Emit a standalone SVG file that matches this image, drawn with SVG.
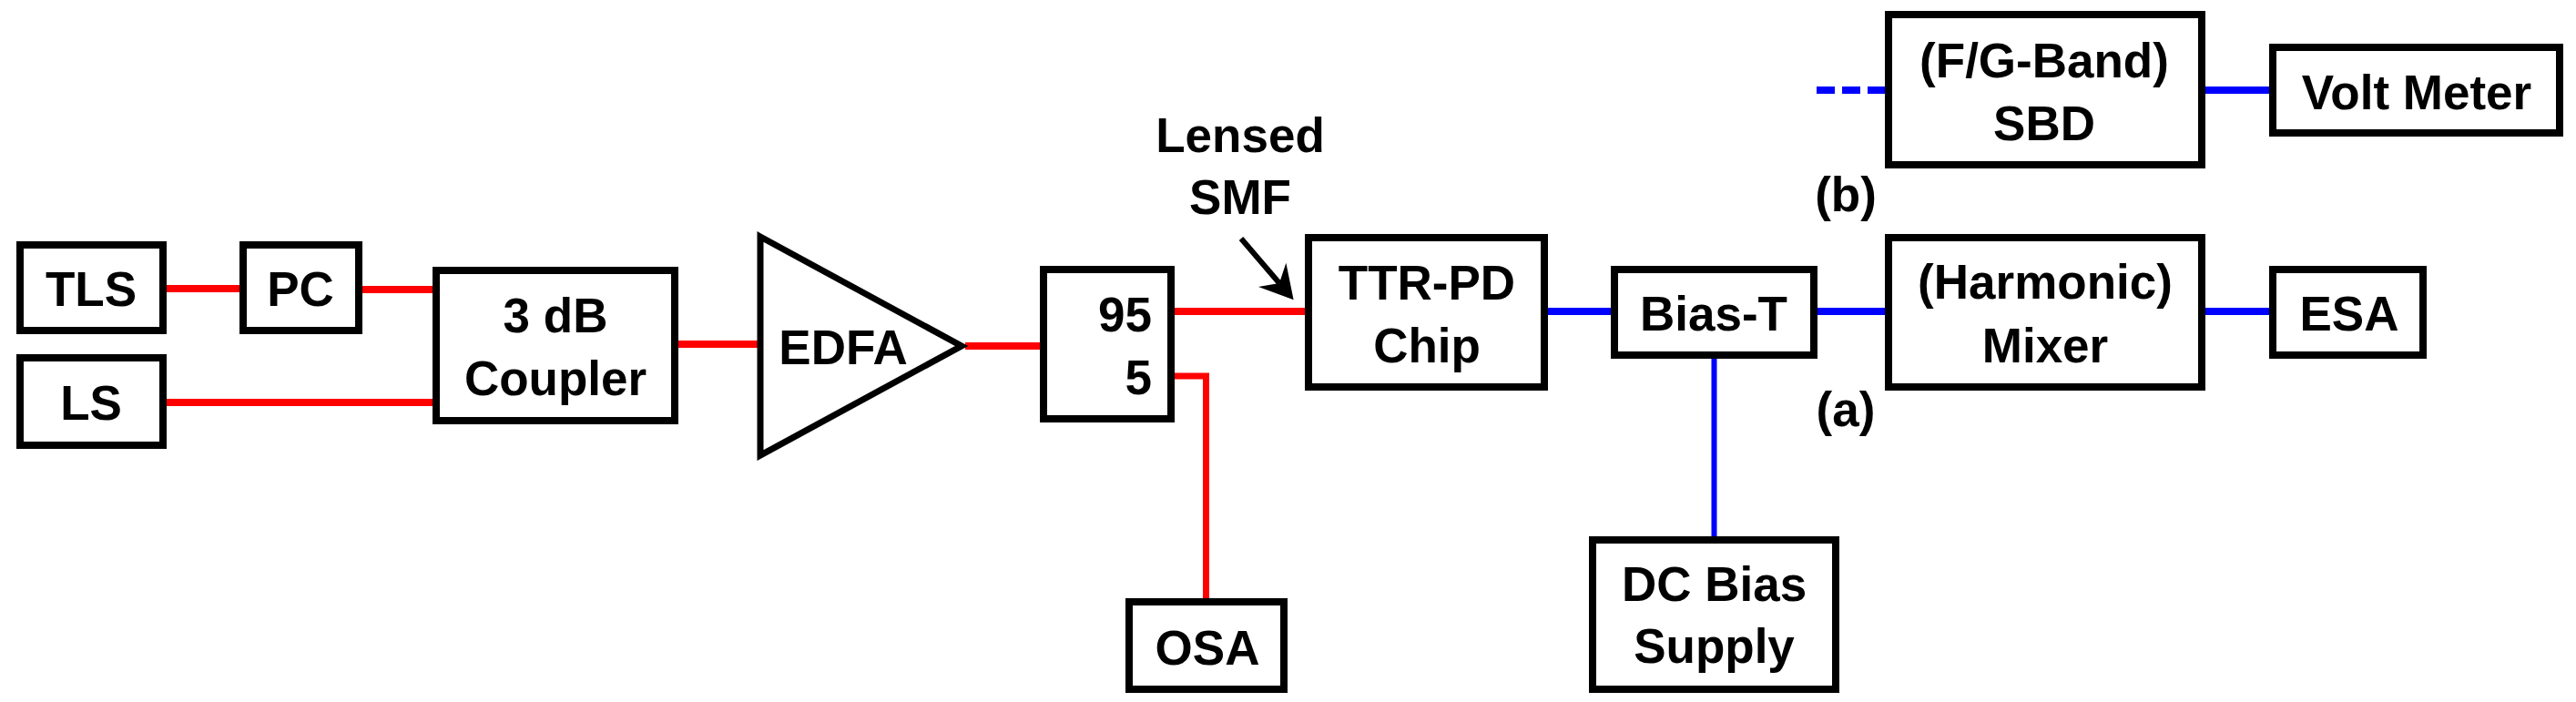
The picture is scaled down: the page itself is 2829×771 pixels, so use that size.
<svg xmlns="http://www.w3.org/2000/svg" width="2829" height="771" viewBox="0 0 2829 771">
<style>
.b{fill:#fff;stroke:#000;stroke-width:8}
.t{font-family:"Liberation Sans",Arial,sans-serif;font-weight:700;font-size:53px;fill:#000;text-anchor:middle}
.r{fill:none;stroke:#f00;stroke-width:8}
.u{fill:none;stroke:#00f;stroke-width:8}
</style>
<defs>
<marker id="head" markerUnits="userSpaceOnUse" markerWidth="48" markerHeight="48" viewBox="-44 -24 48 48" refX="-24" refY="0" orient="auto"><path d="M0 0L-36-20L-24 0L-36 20Z" fill="#000"/></marker>
</defs>
<rect width="2829" height="771" fill="#fff"/>
<g id="connectors">
<path class="r" d="M183 317H263"/>
<path class="r" d="M398 318H475"/>
<path class="r" d="M183 442H475"/>
<path class="r" d="M745 378H832"/>
<path class="r" d="M1060 380H1142"/>
<path class="r" d="M1290 342H1433"/>
<path class="r" style="stroke-width:7" d="M1290 413H1324.500V658"/>
<path class="u" d="M1700 342H1769"/>
<path class="u" d="M1996 342H2070"/>
<path class="u" d="M2422 342H2492"/>
<path class="u" style="stroke-width:6" d="M1882.500 394V590"/>
<path class="u" d="M2422 99H2492"/>
<path class="u" stroke-dasharray="20 8" d="M1995 99H2070"/>
<path stroke="#000" stroke-width="6" fill="none" marker-end="url(#head)" d="M1363 262L1405 311"/>
</g>
<g id="tls"><rect class="b" x="22" y="269" width="157" height="94"/><text class="t" x="100" y="336">TLS</text></g>
<g id="pc"><rect class="b" x="267" y="269" width="127" height="94"/><text class="t" x="330" y="336">PC</text></g>
<g id="ls"><rect class="b" x="22" y="393" width="157" height="96"/><text class="t" x="100" y="461">LS</text></g>
<g id="coupler"><rect class="b" x="479" y="297" width="262" height="165"/><text class="t" x="610" y="365">3 dB</text><text class="t" x="610" y="434">Coupler</text></g>
<g id="edfa"><polygon class="b" style="stroke-width:7" points="835,260 1056,380 835,500"/><text class="t" x="926" y="400">EDFA</text></g>
<g id="splitter"><rect class="b" x="1146" y="296" width="140" height="164"/><text class="t" style="text-anchor:end" x="1265" y="364">95</text><text class="t" style="text-anchor:end" x="1265" y="433">5</text></g>
<g id="osa"><rect class="b" x="1240" y="661" width="170" height="96"/><text class="t" x="1326" y="730">OSA</text></g>
<g id="lensed-smf"><text class="t" x="1362" y="167">Lensed</text><text class="t" x="1362" y="235">SMF</text></g>
<g id="ttr-pd"><rect class="b" x="1437" y="261" width="259" height="164"/><text class="t" x="1567" y="329">TTR-PD</text><text class="t" x="1567" y="398">Chip</text></g>
<g id="bias-t"><rect class="b" x="1773" y="296" width="219" height="94"/><text class="t" x="1882" y="363">Bias-T</text></g>
<g id="dc-bias"><rect class="b" x="1749" y="593" width="267" height="164"/><text class="t" x="1882.500" y="660">DC Bias</text><text class="t" x="1882.500" y="728">Supply</text></g>
<g id="mixer"><rect class="b" x="2074" y="261" width="344" height="164"/><text class="t" x="2246" y="328">(Harmonic)</text><text class="t" x="2246" y="398">Mixer</text></g>
<g id="esa"><rect class="b" x="2496" y="296" width="165" height="94"/><text class="t" x="2580" y="363">ESA</text></g>
<g id="sbd"><rect class="b" x="2074" y="16" width="344" height="165"/><text class="t" x="2245" y="85">(F/G-Band)</text><text class="t" x="2245" y="154">SBD</text></g>
<g id="volt-meter"><rect class="b" x="2496" y="52" width="315" height="94"/><text class="t" x="2654" y="120">Volt Meter</text></g>
<g id="label-b"><text class="t" x="2027" y="232">(b)</text></g>
<g id="label-a"><text class="t" x="2027" y="468">(a)</text></g>
</svg>
